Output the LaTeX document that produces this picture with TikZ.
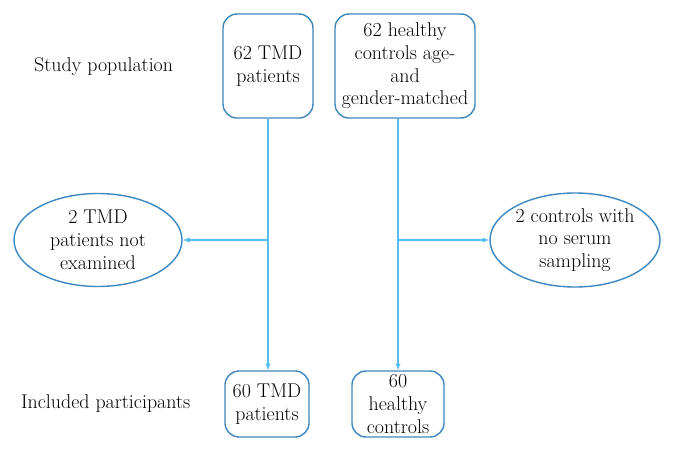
\documentclass[tikz,border=0pt]{standalone}
\usepackage{xcolor}
\usepackage{tikz}
\usetikzlibrary{positioning,arrows,shapes.geometric}
\definecolor{boxblue}{RGB}{62,136,192}
\definecolor{lineblue}{RGB}{84,190,238}
\tikzset{
  flowbox/.style={draw=boxblue,line width=1.2pt,rounded corners=12pt,align=center,inner sep=0pt},
  flowoval/.style={draw=boxblue,line width=1.2pt,ellipse,align=center,inner sep=0pt},
  flowline/.style={lineblue,line width=1pt}
}

\begin{document}
\begin{tikzpicture}[x=0.03cm,y=-0.03cm,font=\fontsize{17}{19.4}\selectfont]
\useasboundingbox (0,0) rectangle (675,452);

\node[anchor=west] (studylab) at (30,67) {Study population};
\node[anchor=west] (inclab) at (17,404) {Included participants};

\node[flowbox,minimum width=2.7cm,minimum height=3.12cm] (tmd) at (268,66)
{62 TMD\\patients};
\node[flowbox,minimum width=4.2cm,minimum height=3.12cm] (ctrl) at (405,66)
{62 healthy\\controls age-\\and\\gender-matched};

\node[flowbox,minimum width=2.52cm,minimum height=1.98cm] (tmdin) at (267,404)
{60 TMD\\patients};
\node[flowbox,minimum width=2.76cm,minimum height=1.98cm] (ctrlin) at (398,404)
{60\\healthy\\controls};

\node[flowoval,minimum width=5.04cm,minimum height=2.79cm] (tmdout) at (98,240)
{2 TMD\\patients not\\examined};
\node[flowoval,minimum width=5.1cm,minimum height=2.82cm] (ctrlout) at (575,240)
{2 controls with\\no serum\\sampling};

\draw[flowline,-latex] (tmd.south) -- (tmd.south |- tmdin.north);
\draw[flowline,-latex] (ctrl.south -| ctrlin.north) -- (ctrlin.north);
\draw[flowline,-latex] (tmd.south |- tmdout.east) -- (tmdout.east);
\draw[flowline,-latex] (ctrlin.north |- ctrlout.west) -- (ctrlout.west);

\end{tikzpicture}
\end{document}
